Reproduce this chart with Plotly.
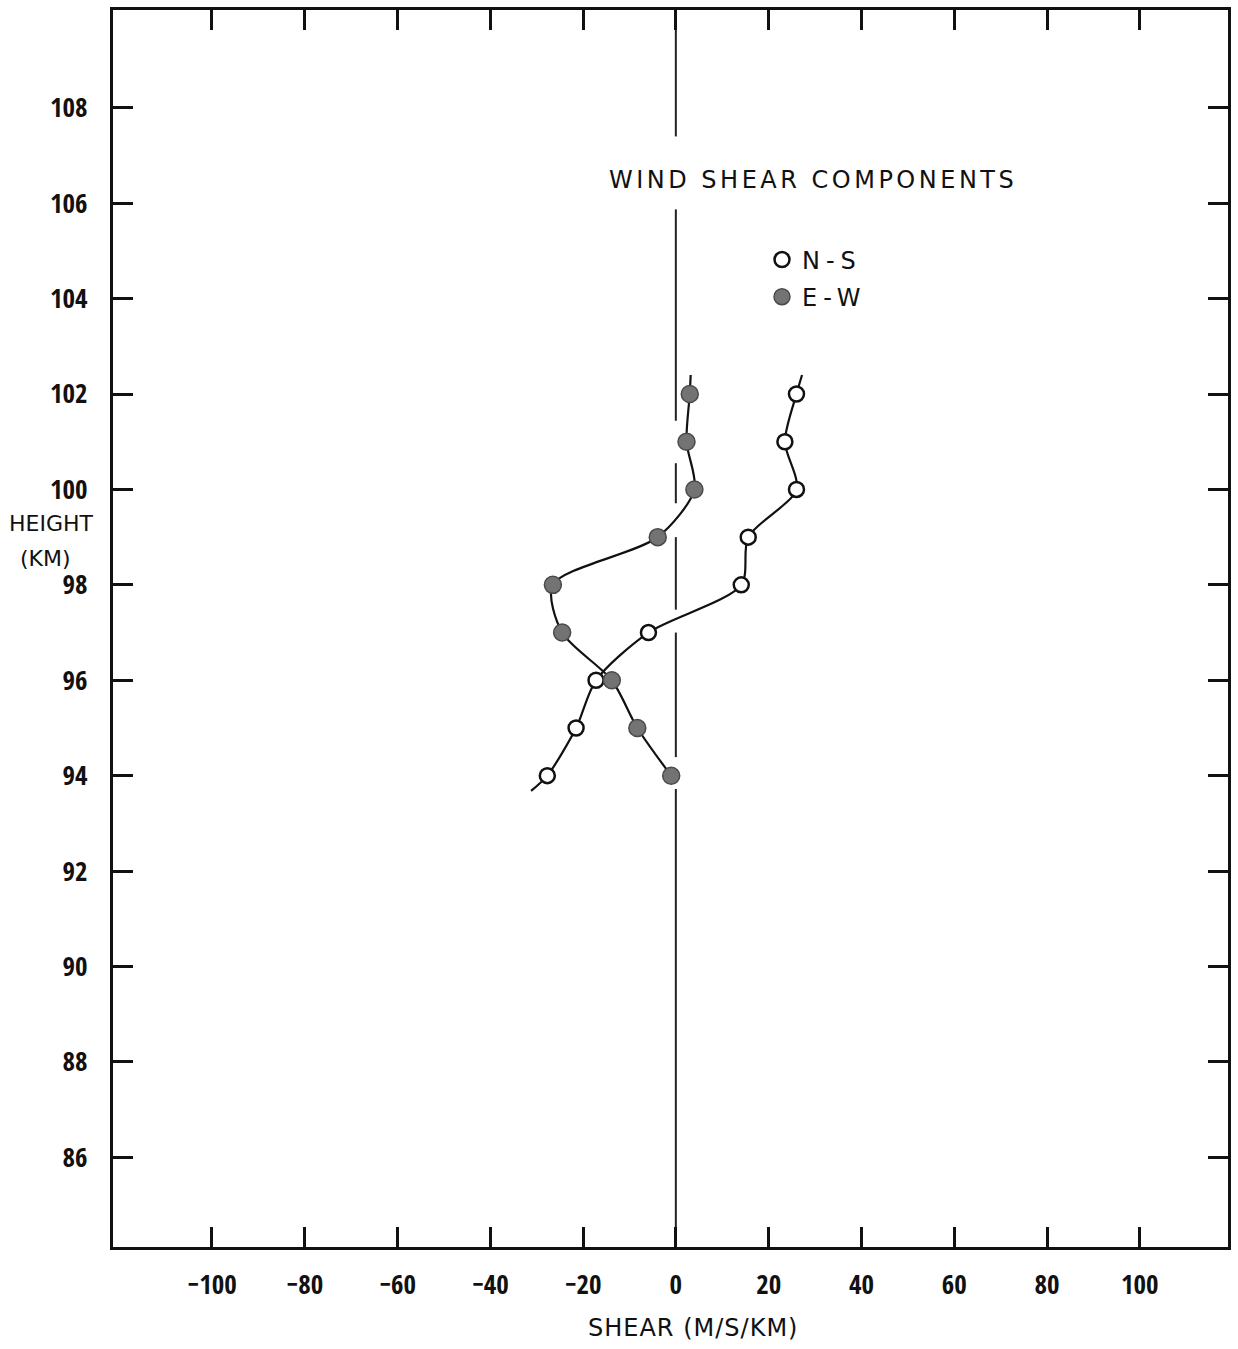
import plotly.graph_objects as go

# ---- data ----
heights = [94, 95, 96, 97, 98, 99, 100, 101, 102]
ns_shear = [-27.7, -21.5, -17.2, -5.9, 14.1, 15.6, 26.0, 23.5, 26.0]
ew_shear = [-1.0, -8.3, -13.8, -24.5, -26.5, -3.9, 4.0, 2.3, 3.0]

# hand-drawn curve tails beyond the first/last points
ns_curve_shear = [-31.2] + ns_shear + [27.2]
ns_curve_height = [93.68] + heights + [102.4]
ew_curve_shear = ew_shear + [3.2]
ew_curve_height = heights + [102.4]

# broken zero-shear reference line: (bottom, top) height pairs
zero_line_segments = [(84.12, 93.72), (94.39, 97.0), (97.48, 99.0),
                      (99.71, 100.55), (101.44, 105.87), (107.4, 110.05)]

x_ticks = [-100, -80, -60, -40, -20, 0, 20, 40, 60, 80, 100]
x_tick_labels = ["\u2212100", "\u221280", "\u221260", "\u221240", "\u221220",
                 "0", "20", "40", "60", "80", "100"]
y_ticks = [86, 88, 90, 92, 94, 96, 98, 100, 102, 104, 106, 108]
y_tick_labels = [str(v) for v in y_ticks]

title_text = "WIND SHEAR COMPONENTS"
x_title = "SHEAR (M/S/KM)"
y_title_lines = ["HEIGHT", "(KM)"]
series_names = ["N-S", "E-W"]

# ---- style ----
TICK_FONT = ("Open Sans Condensed, Roboto Condensed, Liberation Sans Narrow, "
             "DejaVu Sans Condensed, Arial Narrow, sans-serif")
TEXT_FONT = "DejaVu Sans, Verdana, sans-serif"
INK = "#111111"

fig = go.Figure()

# zero line
zx, zy = [], []
for lo, hi in zero_line_segments:
    zx += [0, 0, None]
    zy += [lo, hi, None]
fig.add_trace(go.Scatter(x=zx, y=zy, mode="lines", showlegend=False,
                         line=dict(color="#222222", width=2), hoverinfo="skip"))

# smooth curves
fig.add_trace(go.Scatter(x=ns_curve_shear, y=ns_curve_height, mode="lines",
                         line=dict(color=INK, width=2.2, shape="spline", smoothing=0.8),
                         showlegend=False, hoverinfo="skip"))
fig.add_trace(go.Scatter(x=ew_curve_shear, y=ew_curve_height, mode="lines",
                         line=dict(color=INK, width=2.2, shape="spline", smoothing=0.8),
                         showlegend=False, hoverinfo="skip"))

# markers
fig.add_trace(go.Scatter(x=ns_shear, y=heights, mode="markers",
                         name='<span style="letter-spacing:6px">' + series_names[0] + '</span>',
                         legendgroup="ns",
                         marker=dict(symbol="circle", size=15, color="white",
                                     line=dict(color=INK, width=2.5))))
fig.add_trace(go.Scatter(x=ew_shear, y=heights, mode="markers",
                         name='<span style="letter-spacing:6px">' + series_names[1] + '</span>',
                         legendgroup="ew",
                         marker=dict(symbol="circle", size=17, color="#737373",
                                     line=dict(color="#4a4a4a", width=1.5))))

W, H = 1238, 1349
ML, MR, MT, MB = 113, 10, 7, 102
pw, ph = W - ML - MR, H - MT - MB


def px_to_paper(px, py):
    return (px - ML) / pw, (H - MB - py) / ph


annotations = []
tx, ty = px_to_paper(607, 177)
annotations.append(dict(x=tx, y=ty, xref="paper", yref="paper", xanchor="left",
                        yanchor="middle", showarrow=False,
                        text='<span style="letter-spacing:3.5px">' + title_text + '</span>',
                        font=dict(family=TEXT_FONT, size=24, color=INK)))
for (cx, cy), line in zip([(51, 522), (45, 557)], y_title_lines):
    ax_, ay_ = px_to_paper(cx, cy)
    annotations.append(dict(x=ax_, y=ay_, xref="paper", yref="paper", xanchor="center",
                            yanchor="middle", showarrow=False, text=line,
                            font=dict(family=TEXT_FONT, size=22, color=INK)))
bx, by = px_to_paper(693, 1328)
annotations.append(dict(x=bx, y=by, xref="paper", yref="paper", xanchor="center",
                        yanchor="middle", showarrow=False,
                        text='<span style="letter-spacing:1px">' + x_title + '</span>',
                        font=dict(family=TEXT_FONT, size=24, color=INK)))

lx, ly = px_to_paper(762, 235)

axis_common = dict(showgrid=False, zeroline=False, showline=True, linecolor=INK,
                   linewidth=3, mirror="ticks", ticks="inside", ticklen=20,
                   tickwidth=3, tickcolor=INK,
                   tickfont=dict(family=TICK_FONT, size=27, color=INK))

fig.update_layout(
    width=W, height=H,
    margin=dict(l=ML, r=MR, t=MT, b=MB),
    paper_bgcolor="white", plot_bgcolor="white",
    xaxis=dict(range=[-121.3, 119.0], tickvals=x_ticks, ticktext=x_tick_labels,
               ticklabelstandoff=12, **axis_common),
    yaxis=dict(range=[84.12, 110.05], tickvals=y_ticks, ticktext=y_tick_labels,
               ticklabelstandoff=17, **axis_common),
    showlegend=True,
    legend=dict(x=lx, y=ly, xanchor="left", yanchor="top", bgcolor="rgba(0,0,0,0)",
                font=dict(family=TEXT_FONT, size=24, color=INK),
                tracegroupgap=3, traceorder="grouped", itemsizing="trace"),
    annotations=annotations,
)

fig.write_html("out.html")
